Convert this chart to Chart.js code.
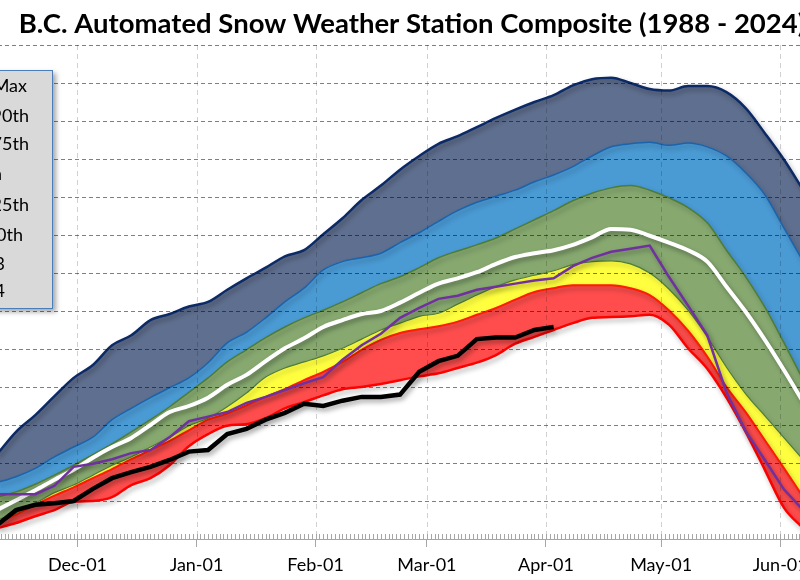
<!DOCTYPE html>
<html>
<head>
<meta charset="utf-8">
<script src="https://cdn.jsdelivr.net/npm/chart.js@4.4.1/dist/chart.umd.min.js"></script>
<style>
  html, body { margin: 0; padding: 0; background: #fff; }
  #wrap { position: relative; width: 800px; height: 580px; overflow: hidden; }
  #chart { position: absolute; left: -200px; top: 0; }
  #legend {
    position: absolute; left: -110px; top: 70px; width: 161px; height: 237px;
    background: #d9d9d9; border: 1px solid #4a7ebb;
    box-shadow: 3px 3px 5px rgba(0,0,0,0.35);
    font-family: Lato; font-size: 18px; color: #000;
  }
  #legend div { position: absolute; white-space: nowrap; line-height: 20px; }
</style>
</head>
<body>
<div id="wrap">
  <canvas id="chart" width="1224" height="580"></canvas>
  <div id="legend"></div>
</div>
<script>
const chartTitle = 'B.C. Automated Snow Weather Station Composite (1988 - 2024)';

// day of water year (Oct-01 = 0)
const days = [40,45,50,55,60,65,70,75,80,85,90,95,100,105,110,115,120,125,130,135,140,145,150,155,160,165,170,175,180,185,190,195,200,205,210,215,220,225,230,235,240,245,250];
const monthStarts = [31,61,92,123,152,183,213,244];
const monthLabels = ['Nov-01','Dec-01','Jan-01','Feb-01','Mar-01','Apr-01','May-01','Jun-01'];

// SWE (mm)
const sweMax    = [111,141,163,188,212,229,255,268,288,296,306,312,328,343,357,372,380,401,422,446,465,486,504,520,530,542,554,565,575,584,597,605,607,600,592,590,596,596,588,567,534,499,459];
const swe90     = [74,82,93,108,121,134,157,172,186,199,212,232,258,272,291,312,330,354,365,370,376,390,403,418,432,443,451,459,470,479,490,504,516,520,522,518,521,516,504,482,453,409,365];
const swe75     = [55,62,72,84,97,111,125,141,157,174,193,212,233,249,265,279,291,301,312,324,336,345,357,370,379,387,396,408,420,432,445,455,462,465,459,449,436,416,380,345,305,258,209];
const sweMedian = [38,51,64,78,91,107,121,133,150,167,175,186,203,216,234,251,264,279,288,296,300,311,324,336,343,351,362,371,376,380,387,397,408,407,399,390,380,365,332,299,262,222,180];
const swe25     = [25,34,47,61,71,84,97,108,121,134,149,159,174,192,213,225,233,241,251,263,275,284,293,297,309,321,332,341,347,353,361,365,366,362,350,329,301,266,226,191,162,133,104];
const swe10     = [21,32,45,57,68,80,92,105,117,129,143,157,165,176,187,197,209,220,233,249,262,271,276,280,286,295,304,315,325,330,334,334,334,330,321,301,274,240,200,167,130,93,55];
const sweMin    = [14,21,30,38,49,50,55,71,80,97,122,138,149,151,159,172,180,189,197,200,204,209,214,218,225,232,242,257,266,275,284,291,292,293,295,282,251,224,186,141,91,41,14];
const swe2023   = [59,59,59,70,95,99,105,113,117,134,155,161,167,179,187,196,205,213,236,255,270,291,304,316,320,328,332,336,340,343,359,370,378,382,386,345,307,268,193,142,104,65,38];

const currentDays = [40,45,50,55,60,65,70,75,80,85,90,95,100,105,110,115,120,125,130,135,140,145,150,155,160,165,170,175,180,185];
const swe2024   = [18,38,45,47,50,66,80,88,95,104,115,117,138,145,157,166,178,175,182,187,187,190,220,234,241,263,265,265,275,279];

const legendLabels = ['Max','90th','75th','Median','25th','10th','2023','2024'];

function pts(xs, ys) {
  return xs.map((d, i) => ({ x: d, y: ys[i] }));
}

function band(label, values, border, width, bg, fill, order) {
  return {
    label,
    data: pts(days, values),
    borderColor: border,
    borderWidth: width,
    backgroundColor: bg,
    fill,
    order,
    pointRadius: 0,
    cubicInterpolationMode: 'monotone'
  };
}

const datasets = [
  band('Max', sweMax, '#0b2a66', 2.5, '#5f6f8f', 1, 8),
  band('90th', swe90, '#1a63ad', 1.5, '#4a9ad4', 2, 7),
  band('75th', swe75, '#4d7c35', 1.5, '#87a970', 4, 6),
  band('Median', sweMedian, '#ffffff', 4, 'transparent', false, 2),
  band('25th', swe25, '#4d7c35', 1.2, '#ffff40', 5, 5),
  band('10th', swe10, '#ff1a00', 2, '#ff4d4d', 6, 4),
  band('Min', sweMin, '#ff0000', 2.5, 'transparent', false, 3),
  { label: '2023', data: pts(days, swe2023), borderColor: '#7030a0', borderWidth: 2.5,
    pointRadius: 0, tension: 0, fill: false, order: 1 },
  { label: '2024', data: pts(currentDays, swe2024), borderColor: '#000000', borderWidth: 4.5,
    pointRadius: 0, tension: 0, fill: false, order: 0 }
];

// dashed grid drawn over the coloured bands but under the lines
const gridOverBands = {
  id: 'gridOverBands',
  beforeDatasetDraw(chart, args) {
    if (chart.data.datasets[args.index].label !== 'Min') return;
    const { ctx, chartArea: a, scales: { x, y } } = chart;
    ctx.save();
    ctx.lineWidth = 1;
    ctx.setLineDash([4, 3]);
    ctx.strokeStyle = 'rgba(0,0,0,0.5)';
    ctx.beginPath();
    y.ticks.forEach(t => {
      if (t.value === 0) return;
      const py = Math.round(y.getPixelForValue(t.value)) + 0.5;
      ctx.moveTo(a.left, py);
      ctx.lineTo(a.right, py);
    });
    ctx.stroke();
    ctx.setLineDash([5, 4]);
    ctx.strokeStyle = 'rgba(0,0,0,0.18)';
    ctx.beginPath();
    monthStarts.forEach(d => {
      const px = Math.round(x.getPixelForValue(d)) + 0.5;
      ctx.moveTo(px, a.top);
      ctx.lineTo(px, a.bottom);
    });
    ctx.stroke();
    ctx.restore();
  }
};

// soft shadow under the series lines
const shadow = {
  id: 'shadow',
  beforeDatasetDraw(chart) {
    const c = chart.ctx;
    c.save();
    c.shadowColor = 'rgba(0,0,0,0.35)';
    c.shadowBlur = 5;
    c.shadowOffsetX = 2;
    c.shadowOffsetY = 3;
  },
  afterDatasetDraw(chart) {
    chart.ctx.restore();
  }
};

// one small tick per day on the date axis
const minorTicks = {
  id: 'minorTicks',
  afterDraw(chart) {
    const x = chart.scales.x;
    const ctx = chart.ctx;
    ctx.save();
    ctx.strokeStyle = '#a6a6a6';
    ctx.lineWidth = 1;
    ctx.beginPath();
    for (let d = Math.ceil(x.min); d <= x.max; d++) {
      const px = Math.round(x.getPixelForValue(d)) + 0.5;
      ctx.moveTo(px, x.top);
      ctx.lineTo(px, x.top - 5);
    }
    ctx.stroke();
    ctx.restore();
  }
};

new Chart(document.getElementById('chart'), {
  type: 'line',
  data: { datasets },
  options: {
    responsive: false,
    animation: false,
    layout: { padding: { left: 100, right: 100, top: 0, bottom: 0 } },
    plugins: {
      legend: { display: false },
      tooltip: { enabled: false },
      title: {
        display: true,
        text: chartTitle,
        color: '#000',
        font: { family: 'Lato', size: 27.5, weight: 'bold' },
        padding: { top: 8, bottom: 4 }
      }
    },
    scales: {
      x: {
        type: 'linear',
        min: 14.776,
        max: 281.443,
        afterBuildTicks: s => { s.ticks = monthStarts.map(v => ({ value: v })); },
        afterFit: s => { s.height = 41; },
        ticks: {
          autoSkip: false,
          maxRotation: 0,
          padding: 7,
          color: '#000',
          font: { family: 'Lato', size: 18 },
          callback: v => monthLabels[monthStarts.indexOf(v)] || ''
        },
        grid: { drawOnChartArea: false, tickLength: 8, tickColor: '#a6a6a6' },
        border: { color: '#a6a6a6', width: 1 }
      },
      y: {
        min: 0,
        max: 650,
        afterFit: s => { s.width = 0; },
        ticks: { display: false, stepSize: 50 },
        grid: { display: false },
        border: { display: false }
      }
    }
  },
  plugins: [gridOverBands, shadow, minorTicks]
});

// legend box (mostly cropped by the left edge, as in the original)
const legendRight = [25, 23, 23, 50, 23, 29, 47, 47];
const legendTop = [4, 34, 62, 92, 123, 153, 182, 209];
const legendBox = document.getElementById('legend');
legendLabels.forEach((t, i) => {
  const el = document.createElement('div');
  el.textContent = t;
  el.style.right = legendRight[i] + 'px';
  el.style.top = legendTop[i] + 'px';
  legendBox.appendChild(el);
});
</script>
</body>
</html>
